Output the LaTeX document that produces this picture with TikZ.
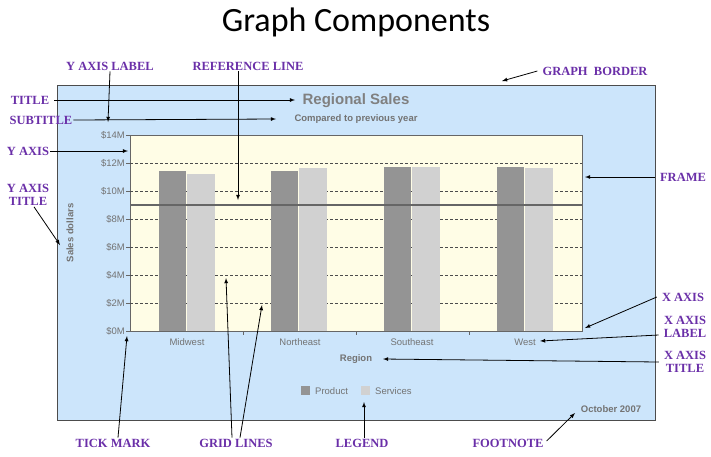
\documentclass[tikz,border=0pt]{standalone}
\usepackage{fontspec}
\setmainfont{Liberation Serif}
\newfontfamily\chartfont{Liberation Sans}
\newfontfamily\headfont{Carlito}
\definecolor{labcol}{HTML}{6A2FA8}
\begin{document}
\begin{tikzpicture}[x=1pt,y=-1pt,
  lab/.style={font=\bfseries\fontsize{12.5}{13}\selectfont, text=labcol, align=center, inner sep=1pt},
  ann/.style={-latex, thick, black},
  ct/.style={font=\chartfont\fontsize{9.5}{9.5}\selectfont, text=black!55, inner sep=1pt},
  prod/.style={fill=black!42},
  serv/.style={fill=black!18},
  grid/.style={densely dashed, black!70, line width=0.4pt}]
\useasboundingbox (0,0) rectangle (711,456);
\definecolor{bordfill}{HTML}{CCE5FB}
\definecolor{framefill}{HTML}{FFFDE6}
\node (head) at (356,22) {\headfont\fontsize{34}{34}\selectfont Graph Components};
\draw[black!70, fill=bordfill] (57,85) rectangle (655,420);
\draw[black!60, fill=framefill] (130,135) rectangle (582,331);
\foreach \y in {163,191,219,247,275,303} \draw[grid] (130,\y) -- (582,\y);
\foreach \x/\a/\b in {159/171/174, 271/171/168, 384/167/167, 497/167/168}{
  \fill[prod] (\x,\a) rectangle ++(27,331-\a);
  \fill[serv] (\x+28,\b) rectangle ++(28,331-\b);
}
\draw[line width=2.5pt, black!60] (130,205) -- (582,205);
\foreach \v [count=\i from 0] in {0,2,4,6,8,10,12,14}{
  \draw[black!60] (126,331-28*\i) -- (130,331-28*\i);
  \node[ct, anchor=east] at (126,331-28*\i) {\$\v M};
}
\foreach \x in {243,356,469} \draw[black!60] (\x,331) -- (\x,335);
\node[ct] (mid) at (187,342) {Midwest};
\node[ct] at (300,342) {Northeast};
\node[ct] at (412,342) {Southeast};
\node[ct] (west) at (525,342) {West};
\node[ct, font=\chartfont\bfseries\fontsize{9.5}{9.5}\selectfont] (region) at (356,359) {Region};
\node[ct, font=\chartfont\bfseries\fontsize{15}{15}\selectfont, text=black!50] (title) at (356,101) {Regional Sales};
\node[ct, font=\chartfont\bfseries\fontsize{9.5}{9.5}\selectfont] (sub) at (356,119) {Compared to previous year};
\node[ct, font=\chartfont\bfseries\fontsize{9.5}{9.5}\selectfont, rotate=90] (ytit) at (70,233) {Sales dollars};
\fill[prod] (301,386) rectangle (310,395);
\node[ct, anchor=west] at (314,391) {Product};
\fill[serv] (361,386) rectangle (370,395);
\node[ct, anchor=west] (leg) at (374,391) {Services};
\node[ct, font=\chartfont\bfseries\fontsize{9.5}{9.5}\selectfont] (foot) at (611,409) {October 2007};
% labels
\node[lab] (lYL) at (110,66) {Y AXIS LABEL};
\node[lab] (lRL) at (248,66) {REFERENCE LINE};
\node[lab] (lGB) at (595,71) {GRAPH\ \ BORDER};
\node[lab] (lT) at (30,100) {TITLE};
\node[lab] (lST) at (41,120) {SUBTITLE};
\node[lab] (lYA) at (28,151) {Y AXIS};
\node[lab] (lYT) at (28,195) {Y AXIS\\TITLE};
\node[lab] (lF) at (683,177) {FRAME};
\node[lab] (lXA) at (683,297) {X AXIS};
\node[lab] (lXL) at (685,327) {X AXIS\\LABEL};
\node[lab] (lXT) at (685,362) {X AXIS\\TITLE};
\node[lab] (lTM) at (113,443) {TICK MARK};
\node[lab] (lGL) at (236,443) {GRID LINES};
\node[lab] (lLG) at (362,443) {LEGEND};
\node[lab] (lFN) at (508,443) {FOOTNOTE};
\coordinate (pT) at (295,100);
\coordinate (pST) at (276,119);
\coordinate (pYL) at (108,122);
\coordinate (pRL) at (238,200);
\coordinate (pYA) at (128,151);
\coordinate (pYT) at (60,245);
\coordinate (pGB) at (502,81);
\coordinate (pF) at (585,177);
\coordinate (pXA) at (585,328);
\coordinate (pXL) at (540,341);
\coordinate (pXT) at (383,359);
\coordinate (pTM) at (127,336);
\coordinate (pG1) at (226,278);
\coordinate (pG2) at (262,305);
\coordinate (pLG) at (364,402);
\coordinate (pFN) at (575,413);
\draw[ann] (lT.east) ++(4,0) -- (pT);
\draw[ann] (lST.east) -- (pST);
\draw[ann] (lYL.south) -- (pYL);
\draw[ann] (lRL.south -| pRL) -- (pRL);
\draw[ann] (lYA.east) -- (pYA);
\draw[ann] (lYT.south) ++(6,0) -- (pYT);
\draw[ann] (lGB.west) ++(-4,0) -- (pGB);
\draw[ann] (lF.west) ++(-4,0) -- (pF);
\draw[ann] (lXA.west) ++(-4,0) -- (pXA);
\draw[ann] (lXL.west) ++(-4,8) -- (pXL);
\draw[ann] (lXT.west) ++(-4,0) -- (pXT);
\draw[ann] (lTM.north) ++(5,0) -- (pTM);
\draw[ann] (lGL.north) ++(-4,0) -- (pG1);
\draw[ann] (lGL.north) ++(4,0) -- (pG2);
\draw[ann] (lLG.north) ++(2,0) -- (pLG);
\draw[ann] (lFN.east) ++(2,-2) -- (pFN);
\end{tikzpicture}
\end{document}
